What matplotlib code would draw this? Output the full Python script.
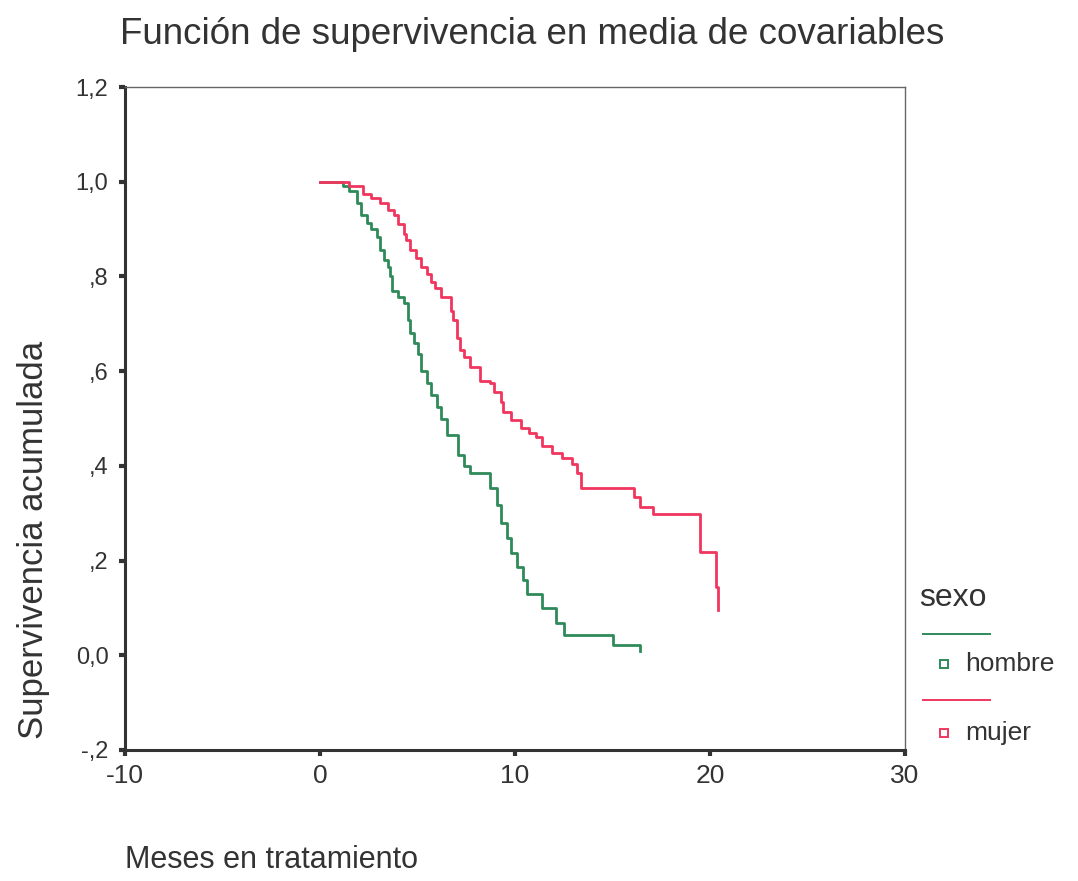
import matplotlib
matplotlib.use("Agg")
import matplotlib.pyplot as plt
from matplotlib.lines import Line2D
from matplotlib.ticker import FixedLocator, FixedFormatter

# ---- survival steps (months, cumulative survival) ----
hombre_t = [0, 1.2, 1.5, 1.9, 2.1, 2.4, 2.6, 2.9, 3.1, 3.3, 3.5, 3.6, 3.7, 4.0,
            4.3, 4.5, 4.6, 4.8, 5.0, 5.2, 5.5, 5.7, 6.0, 6.2, 6.5, 7.1, 7.4,
            7.7, 8.7, 9.1, 9.3, 9.6, 9.8, 10.1, 10.4, 10.6, 11.4, 12.1, 12.5,
            15.0, 16.4]
hombre_s = [1.0, 0.99, 0.98, 0.955, 0.93, 0.912, 0.90, 0.883, 0.855, 0.834,
            0.82, 0.80, 0.77, 0.756, 0.743, 0.707, 0.68, 0.659, 0.637, 0.60,
            0.574, 0.55, 0.524, 0.50, 0.465, 0.422, 0.40, 0.384, 0.353, 0.317,
            0.28, 0.247, 0.215, 0.186, 0.16, 0.13, 0.10, 0.068, 0.042, 0.021,
            0.01]

mujer_t = [0, 1.5, 2.2, 2.6, 3.1, 3.5, 3.8, 4.0, 4.3, 4.4, 4.6, 4.9, 5.2, 5.5,
           5.7, 5.9, 6.2, 6.7, 6.8, 7.0, 7.2, 7.4, 7.7, 8.2, 8.7, 8.9, 9.3,
           9.4, 9.8, 10.3, 10.7, 11.1, 11.4, 11.9, 12.4, 12.9, 13.2, 13.4,
           16.1, 16.4, 17.1, 19.5, 20.3, 20.4]
mujer_s = [1.0, 0.99, 0.975, 0.965, 0.955, 0.94, 0.93, 0.91, 0.89, 0.876,
           0.855, 0.84, 0.82, 0.806, 0.788, 0.775, 0.756, 0.728, 0.707, 0.67,
           0.645, 0.63, 0.608, 0.58, 0.574, 0.555, 0.534, 0.513, 0.496, 0.479,
           0.47, 0.46, 0.443, 0.427, 0.416, 0.405, 0.384, 0.353, 0.334, 0.313,
           0.298, 0.218, 0.144, 0.095]

x_ticks = [-10, 0, 10, 20, 30]
x_labels = ["-10", "0", "10", "20", "30"]
y_ticks = [-0.2, 0.0, 0.2, 0.4, 0.6, 0.8, 1.0, 1.2]
y_labels = ["-,2", "0,0", ",2", ",4", ",6", ",8", "1,0", "1,2"]

GREEN = "#2f8a5a"
RED = "#f0365e"
TXT = "#333333"

plt.rcParams["font.family"] = ["Liberation Sans", "DejaVu Sans"]

fig = plt.figure(figsize=(10.78, 8.81), dpi=100)
ax = fig.add_axes([0.116, 0.1487, 0.7235, 0.7525])

ax.step(hombre_t, hombre_s, where="post", color=GREEN, lw=2.0)
ax.step(mujer_t, mujer_s, where="post", color=RED, lw=2.0)

ax.set_xlim(-10, 30)
ax.set_ylim(-0.2, 1.2)
ax.xaxis.set_major_locator(FixedLocator(x_ticks))
ax.xaxis.set_major_formatter(FixedFormatter(x_labels))
ax.yaxis.set_major_locator(FixedLocator(y_ticks))
ax.yaxis.set_major_formatter(FixedFormatter(y_labels))
ax.tick_params(direction="out", length=4, width=3, color="#333333",
               labelcolor=TXT)
ax.tick_params(axis="y", labelsize=17, pad=8)
ax.tick_params(axis="x", labelsize=19, pad=6)

for side in ("left", "bottom"):
    ax.spines[side].set_linewidth(2.2)
    ax.spines[side].set_color("#333333")
for side in ("top", "right"):
    ax.spines[side].set_linewidth(1.0)
    ax.spines[side].set_color("#666666")

fig.text(0.111, 0.961, "Función de supervivencia en media de covariables",
         fontsize=26.5, color=TXT, ha="left", va="center")
fig.text(0.031, 0.387, "Supervivencia acumulada", rotation=90,
         fontsize=25, color=TXT, ha="center", va="center")
fig.text(0.116, 0.024, "Meses en tratamiento", fontsize=22, color=TXT,
         ha="left", va="center")

# legend block on the right
fig.text(0.853, 0.321, "sexo", fontsize=23, color=TXT, ha="left", va="center")
for y_line, y_item, col, name in [(0.280, 0.246, GREEN, "hombre"),
                                  (0.205, 0.168, RED, "mujer")]:
    fig.add_artist(Line2D([0.856, 0.918], [y_line, y_line], color=col,
                          lw=1.4, transform=fig.transFigure))
    fig.add_artist(Line2D([0.876], [y_item], marker="s", markersize=6,
                          markerfacecolor="white", markeredgecolor=col,
                          markeredgewidth=1.4, transform=fig.transFigure))
    fig.text(0.895, y_item, name, fontsize=19, color=TXT, ha="left",
             va="center")

fig.savefig("out.png", dpi=100, facecolor="white")
